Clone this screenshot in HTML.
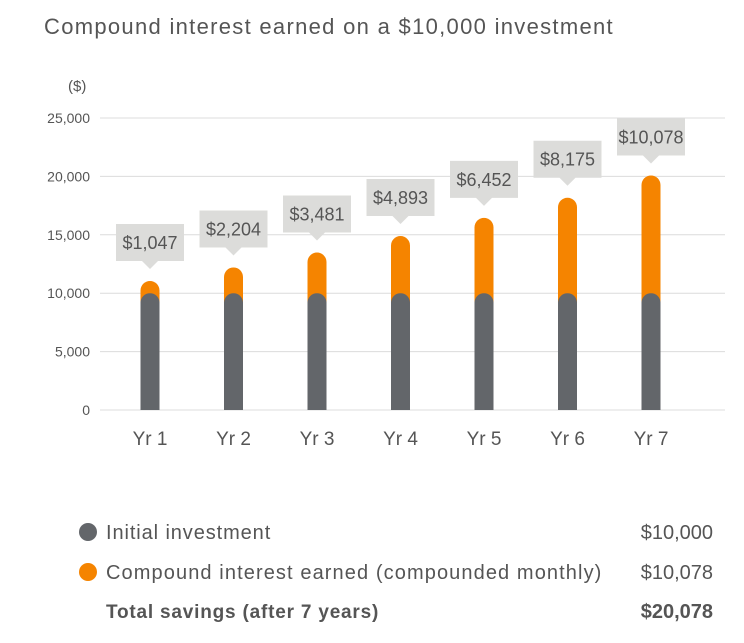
<!DOCTYPE html>
<html><head><meta charset="utf-8"><style>
body{margin:0;background:#fff;font-family:"Liberation Sans",sans-serif;}
svg text{font-family:"Liberation Sans",sans-serif;}
</style></head><body>
<svg width="744" height="638" viewBox="0 0 744 638">
<text x="44" y="34" font-size="22" letter-spacing="1.3" fill="#555">Compound interest earned on a $10,000 investment</text>
<text x="68" y="91" font-size="15" fill="#555">($)</text>
<g id="grid"></g><g id="bars"></g><g id="labels"></g>
<g>
<circle cx="88" cy="532" r="9" fill="#63666a"/>
<text x="106" y="539" font-size="20" letter-spacing="0.9" fill="#555">Initial investment</text>
<text x="713" y="539" font-size="20" fill="#555" text-anchor="end">$10,000</text>
<circle cx="88" cy="572" r="9" fill="#f58400"/>
<text x="106" y="579" font-size="20" letter-spacing="1.1" fill="#555">Compound interest earned (compounded monthly)</text>
<text x="713" y="579" font-size="20" fill="#555" text-anchor="end">$10,078</text>
<text x="106" y="618" font-size="19" letter-spacing="0.8" font-weight="bold" fill="#555">Total savings (after 7 years)</text>
<text x="713" y="618" font-size="20" font-weight="bold" fill="#555" text-anchor="end">$20,078</text>
</g>
</svg>
<script>
const categories=["Yr 1","Yr 2","Yr 3","Yr 4","Yr 5","Yr 6","Yr 7"];
const principal=[10000,10000,10000,10000,10000,10000,10000];
const interest=[1047,2204,3481,4893,6452,8175,10078];
const yTicks=[0,5000,10000,15000,20000,25000];
const yTickLabels=["0","5,000","10,000","15,000","20,000","25,000"];
const NS="http://www.w3.org/2000/svg";
const y0=410,y1=118,yMax=25000;
const y=v=>y0-(y0-y1)*v/yMax;
const x=i=>150+i*83.5;
function mk(tag,attrs,parent){const e=document.createElementNS(NS,tag);for(const k in attrs)e.setAttribute(k,attrs[k]);parent.appendChild(e);return e;}
const grid=document.getElementById('grid'),bars=document.getElementById('bars'),labels=document.getElementById('labels');
yTicks.forEach((t,i)=>{
 const l=mk('line',{x1:100,x2:725,y1:y(t),y2:y(t),stroke:'#dcdcdc','stroke-width':1},grid);
 
 
 const tx=mk('text',{x:90,y:y(t)+5,'font-size':14,fill:'#555','text-anchor':'end'},grid);
 tx.textContent=yTickLabels[i];
 
 
});
const bw=19,r=9.5;
function bar(cx,top,bottom,color,name){
 const p=mk('path',{d:`M${cx-bw/2},${bottom}V${top+r}A${r},${r} 0 0 1 ${cx+bw/2},${top+r}V${bottom}Z`,fill:color},bars);
 
 
}
categories.forEach((c,i)=>{
 const cx=x(i),tot=principal[i]+interest[i];
 bar(cx,y(tot),y(0),'#f58400','bar-interest');
 bar(cx,y(principal[i]),y(0),'#63666a','bar-principal');
 const xl=mk('text',{x:cx,y:445,'font-size':19,fill:'#555','text-anchor':'middle'},labels);
 xl.textContent=c;
 
 
 const tip=y(tot)-12,bh=37,bwid=68,by=tip-8-bh;
 const g=mk('path',{d:`M${cx-bwid/2},${by}h${bwid}v${bh}H${cx+8}L${cx},${tip}L${cx-8},${by+bh}H${cx-bwid/2}Z`,fill:'#dcdcda'},labels);
 
 
 const vt=mk('text',{x:cx,y:by+25,'font-size':18,fill:'#555','text-anchor':'middle'},labels);
 vt.textContent='$'+interest[i].toLocaleString('en-US');
 
 
});
</script>
</body></html>
